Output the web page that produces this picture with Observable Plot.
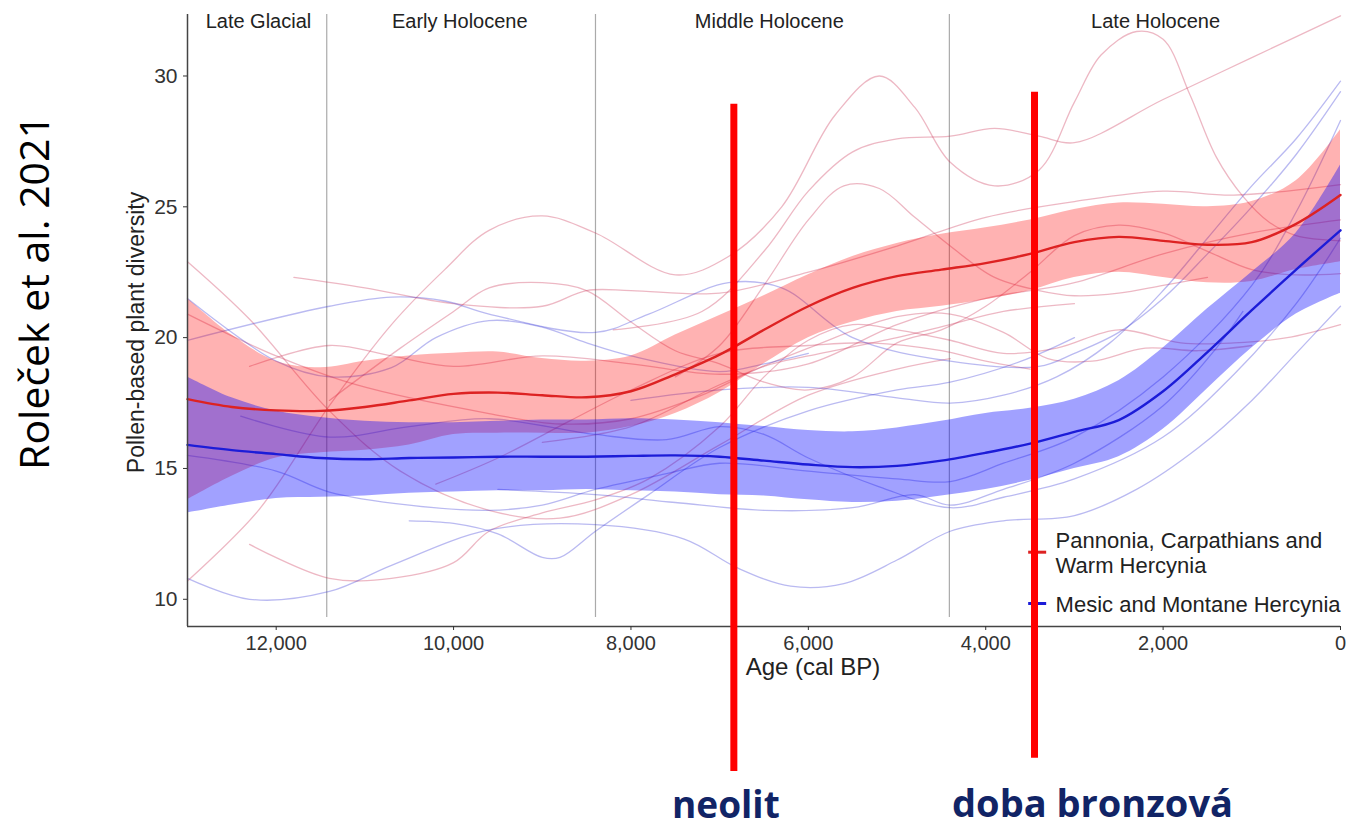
<!DOCTYPE html>
<html><head><meta charset="utf-8">
<script src="https://cdn.jsdelivr.net/npm/d3@7"></script>
<script src="https://cdn.jsdelivr.net/npm/@observablehq/plot@0.6"></script>
<style>body{margin:0;background:#fff}#chart svg{display:block}</style>
</head><body><div id="chart"></div>
<script>
// ---- data ----
const ages      = [13000,12500,12000,11500,11000,10500,10000,9500,9000,8500,8000,7500,7000,6500,6000,5500,5000,4500,4000,3500,3000,2500,2000,1500,1000,500,0];
const redMean   = [17.65,17.35,17.22,17.2,17.35,17.6,17.85,17.9,17.8,17.72,17.95,18.6,19.35,20.3,21.2,21.9,22.35,22.6,22.85,23.2,23.65,23.85,23.7,23.55,23.65,24.35,25.45];
const redHi     = [21.5,20.1,19.1,18.85,19.1,19.3,19.4,19.45,19.2,19.1,19.3,20.1,20.85,21.6,22.4,23.1,23.6,23.95,24.2,24.5,24.9,25.15,25.1,25.0,25.2,26.0,27.95];
const redLo     = [13.8,14.7,15.4,15.6,15.7,15.9,16.3,16.35,16.35,16.35,16.6,17.1,17.9,19.0,20.0,20.6,21.0,21.2,21.45,21.8,22.3,22.5,22.3,22.1,22.15,22.6,22.9];
const blueMean  = [15.9,15.7,15.55,15.4,15.35,15.4,15.42,15.45,15.45,15.45,15.48,15.5,15.45,15.3,15.15,15.05,15.1,15.3,15.6,15.95,16.4,16.85,17.95,19.45,21.05,22.6,24.1];
const blueHi    = [18.5,17.7,17.2,16.95,16.8,16.75,16.75,16.8,16.85,16.85,16.9,16.85,16.75,16.6,16.45,16.4,16.55,16.8,17.1,17.3,17.65,18.35,19.6,21.1,22.5,24.0,26.6];
const blueLo    = [13.3,13.6,13.85,13.9,13.95,14.05,14.1,14.15,14.15,14.2,14.15,14.1,14.0,13.95,13.8,13.7,13.75,13.95,14.2,14.55,15.0,15.45,16.5,18.05,19.6,20.9,21.7];

// individual site curves: [age, diversity]
const redSiteLines = [
  [[13000,22.9],[12300,20.7],[11400,17.2],[10600,14.9],[9600,13.4],[8800,13.1],[8000,14.0],[7000,15.9],[6000,17.8],[5000,18.8],[4400,19.2]],
  [[13000,10.7],[12200,13.4],[11400,17.4],[10700,20.5],[10100,22.6],[9600,24.1],[9000,24.65],[8400,24.0],[7500,22.4],[6900,23.1],[6300,25.0],[5700,28.5],[5200,30.0],[4800,28.8],[4400,26.7],[3900,25.8],[3400,26.4],[3000,29.0],[2700,30.8],[2300,31.7],[2000,31.4],[1700,29.3],[1400,26.9],[1100,25.4],[800,24.4],[500,23.9],[0,23.7]],
  [[8200,20.3],[7200,21.0],[6500,23.3],[6000,25.6],[5500,27.1],[5000,27.6],[4400,27.7],[3900,28.0],[3400,27.7],[3000,27.45],[2000,29.1],[1000,30.7],[0,32.3]],
  [[11800,22.3],[11000,21.9],[10000,21.3],[9000,21.2],[8500,21.8],[8000,21.8],[7000,21.7],[6000,22.5],[5000,23.5],[4000,24.6],[3000,25.2],[2000,25.6],[1200,25.45],[0,25.85]],
  [[12300,12.1],[11400,10.8],[10700,10.8],[10000,11.4],[9600,12.6],[9000,13.3],[8400,13.8],[7800,14.6],[7000,16.6],[6500,18.5],[6000,19.9],[5500,20.5],[5000,20.3],[4400,19.9],[3800,19.4],[3200,19.6],[2500,20.3],[1800,19.8],[1200,19.8],[600,20.0],[0,20.5]],
  [[13000,20.9],[12000,19.3],[11100,18.2],[9600,17.1],[8800,16.7],[8000,16.9],[7200,17.8],[6500,18.9],[6000,19.3],[5000,20.0],[4400,20.5],[3800,21.0],[3000,21.3]],
  [[12300,18.9],[11400,19.7],[10700,19.3],[10000,18.9],[9000,19.3],[8000,19.0],[7000,18.6],[6000,19.0],[5000,20.5],[4000,21.5],[3000,22.1],[2000,23.2],[1000,24.0],[0,24.5]],
  [[11400,17.6],[10600,19.6],[10000,21.0],[9600,21.9],[9000,22.1],[8500,21.8],[8000,20.6],[7500,19.5],[7000,19.0],[6500,18.3],[6000,18.0],[5500,18.5],[5000,19.8],[4500,20.3],[4000,21.2],[3500,22.5],[3000,23.9],[2500,24.3],[2000,24.0],[1500,23.3],[1000,22.6],[500,22.4],[0,22.45]],
  [[7500,18.5],[7000,19.7],[6500,22.0],[6000,24.5],[5600,25.8],[5200,25.7],[4800,24.6],[4400,23.5],[3900,22.3],[3400,21.8],[3000,21.6],[2500,21.7],[2000,22.0],[1500,22.3]],
  [[9000,16.0],[8000,16.6],[7000,18.2],[6000,19.6],[5000,20.8],[4400,20.9],[3800,20.2],[3300,19.2],[2800,19.1],[2200,19.6],[1600,19.5],[1000,19.7]],
  [[10200,14.4],[9500,15.4],[8700,16.8],[8000,18.0],[7000,19.4],[6000,19.7],[5300,19.8],[4500,19.5],[4000,19.1],[3500,18.8]]
];
const blueSiteLines = [
  [[13000,10.8],[12300,10.0],[11400,10.3],[10700,11.3],[9600,12.65],[8400,12.85],[7400,12.3],[6800,11.2],[6200,10.5],[5600,10.6],[5000,11.5],[4400,12.6],[3800,13.0],[3000,13.2],[2300,14.2],[1600,15.8],[1000,17.6],[500,19.4],[0,21.2]],
  [[13000,19.9],[11400,21.2],[10700,21.55],[10100,21.4],[9600,20.9],[8400,20.2],[7800,20.9],[6900,22.1],[6300,21.9],[5500,20.0],[4400,19.1],[3400,18.9],[3000,19.4],[2500,20.2],[2000,21.5],[1500,23.2],[1000,25.0],[500,27.0],[0,29.4]],
  [[13000,21.5],[12000,19.1],[11400,18.5],[10700,18.85],[10200,20.0],[9600,20.65],[9000,20.4],[8500,19.8],[8000,19.3],[7000,18.7],[6500,19.0],[6000,19.4]],
  [[13000,15.5],[12000,14.9],[11400,14.1],[10500,13.6],[9600,13.4],[9000,13.6],[8400,14.2],[7600,14.8],[7000,15.2],[6000,14.9],[5000,14.6],[4400,14.5],[3800,15.2],[3000,16.2],[2000,18.5],[1000,22.0],[500,24.8],[0,28.3]],
  [[12400,17.0],[11400,16.2],[10500,16.6],[9600,16.9],[8400,16.3],[7600,16.1],[7000,16.6],[6500,16.3],[6000,15.4],[5200,14.3],[4400,13.5],[3800,13.9],[3000,14.6],[2000,16.2],[1200,18.6],[500,21.3],[0,23.8]],
  [[10500,13.0],[10000,12.9],[9500,12.5],[9000,11.6],[8800,11.6],[8400,12.6],[7800,14.0],[7000,15.8],[6000,17.2],[5000,18.0],[4400,18.3],[3600,19.1],[3000,20.0]],
  [[9500,14.2],[8400,14.0],[7500,13.7],[6500,13.4],[5500,13.5],[4800,14.0],[4400,13.6],[3800,14.2],[3000,15.2],[2000,17.4],[1400,19.6],[1100,21.0]],
  [[8000,17.6],[7000,18.0],[6000,18.1],[5000,17.7],[4400,17.5],[3800,17.8],[3200,18.5],[2600,19.8],[2000,21.8],[1500,23.8],[1000,25.8],[500,27.6],[0,29.8]]
];

const xTicks = [12000,10000,8000,6000,4000,2000,0];
const yTicks = [10,15,20,25,30];
const periodBounds = [11430,8400,4410];
const periodNames = ["Late Glacial","Early Holocene","Middle Holocene","Late Holocene"];
const periodLabelAges = [12200,9930,6440,2085];
const legendLabels = ["Pannonia, Carpathians and\nWarm Hercynia","Mesic and Montane Hercynia"];
const legendColors = ["#dd2222","#1c1cd8"];
const legendY = [11.8, 9.84];
const markerAges = [6840, 3450];
const markerTop = [28.92, 29.38];
const markerBottom = [3.42, 3.92];
const markerLabels = ["neolit","doba bronzová"];

// ---- tables ----
const fitRed = ages.map((a,i)=>({age:a, mean:redMean[i], lo:redLo[i], hi:redHi[i]}));
const fitBlue = ages.map((a,i)=>({age:a, mean:blueMean[i], lo:blueLo[i], hi:blueHi[i]}));
const toRows = (lines, g) => lines.flatMap((pts,k)=>pts.map(([a,v])=>({id:g+k, age:a, val:v})));
const redRows = toRows(redSiteLines,"r");
const blueRows = toRows(blueSiteLines,"b");
const markers = markerAges.map((a,i)=>({age:a, top:markerTop[i], bottom:markerBottom[i], label:markerLabels[i]}));
const legend = legendLabels.map((l,i)=>({label:l, color:legendColors[i], y:legendY[i]}));

const yMin = 8.96, yMax = 32.35;
const font = "Liberation Sans, Arial, Helvetica, sans-serif";
const slideFont = "Open Sans, Lato, sans-serif";

const chart = Plot.plot({
  width: 1350, height: 828,
  marginLeft: 187, marginRight: 10, marginTop: 14, marginBottom: 202,
  style: {fontFamily: font, background: "white", color: "#333", overflow: "visible"},
  x: {domain: [13000, 0], axis: null},
  y: {domain: [yMin, yMax], axis: null},
  marks: [
    // period boundaries
    Plot.ruleX(periodBounds, {y1: 9.3, y2: yMax, stroke: "#aaa", strokeWidth: 1.2}),
    // individual site curves
    Plot.line(redRows, {x: "age", y: "val", z: "id", stroke: "#cc3355", strokeOpacity: 0.35, strokeWidth: 1.3, curve: "catmull-rom"}),
    Plot.line(blueRows, {x: "age", y: "val", z: "id", stroke: "#3a3ad6", strokeOpacity: 0.35, strokeWidth: 1.3, curve: "catmull-rom"}),
    // confidence ribbons
    Plot.areaY(fitRed, {x: "age", y1: "lo", y2: "hi", fill: "#ff0000", fillOpacity: 0.3, curve: "catmull-rom"}),
    Plot.areaY(fitBlue, {x: "age", y1: "lo", y2: "hi", fill: "#0000ff", fillOpacity: 0.37, curve: "catmull-rom"}),
    // fitted means
    Plot.line(fitRed, {x: "age", y: "mean", stroke: "#dd2222", strokeWidth: 2.4, curve: "catmull-rom"}),
    Plot.line(fitBlue, {x: "age", y: "mean", stroke: "#1c1cd8", strokeWidth: 2.4, curve: "catmull-rom"}),
    // axes
    Plot.ruleX([13000], {stroke: "#444", strokeWidth: 1.5}),
    Plot.ruleY([yMin], {stroke: "#444", strokeWidth: 1.5}),
    Plot.axisX(xTicks, {tickFormat: d3.format(","), fontSize: 20, tickSize: 4, tickPadding: 5, label: null, fill: "#333"}),
    Plot.axisY(yTicks, {fontSize: 21, tickSize: 4, tickPadding: 6, label: null, fill: "#333"}),
    // period labels
    Plot.text(periodNames, {x: (d,i)=>periodLabelAges[i], frameAnchor: "top", lineAnchor: "middle", dy: 7, fontSize: 20, fill: "#222"}),
    // axis titles
    Plot.text(["Pollen-based plant diversity"], {frameAnchor: "left", textAnchor: "middle", dx: -51, dy: 12, rotate: -90, fontSize: 23, fill: "#222"}),
    Plot.text(["Age (cal BP)"], {frameAnchor: "bottom", dx: 49, dy: 41, lineAnchor: "middle", fontSize: 24, fill: "#222"}),
    // legend
    Plot.ruleY(legend, {y: "y", x1: 3516, x2: 3313, stroke: "color", strokeWidth: 3}),
    Plot.text(legend, {x: 3212, y: "y", text: "label", textAnchor: "start", lineAnchor: "middle", lineHeight: 1.18, fontSize: 22, fill: "#222"}),
    // highlighted periods
    Plot.ruleX(markers, {x: "age", y1: "bottom", y2: "top", stroke: "#ff0000", strokeWidth: 7}),
    Plot.text(markers.slice(0,1), {x: "age", y: "bottom", text: "label", dx: -8, dy: 35, lineAnchor: "middle", fontSize: 37, fontWeight: "bold", fontFamily: slideFont, fill: "#112466"}),
    Plot.text(markers.slice(1,2), {x: "age", y: "bottom", text: "label", dx: 58, dy: 46, lineAnchor: "middle", fontSize: 38, fontWeight: "bold", fontFamily: slideFont, fill: "#112466"}),
    // citation
    Plot.text(["Roleček et al. 2021"], {frameAnchor: "left", textAnchor: "middle", dx: -152, dy: -28, rotate: -90, fontSize: 41, fontFamily: slideFont, fill: "#000"})
  ]
});
document.getElementById("chart").append(chart);
</script>
</body></html>
